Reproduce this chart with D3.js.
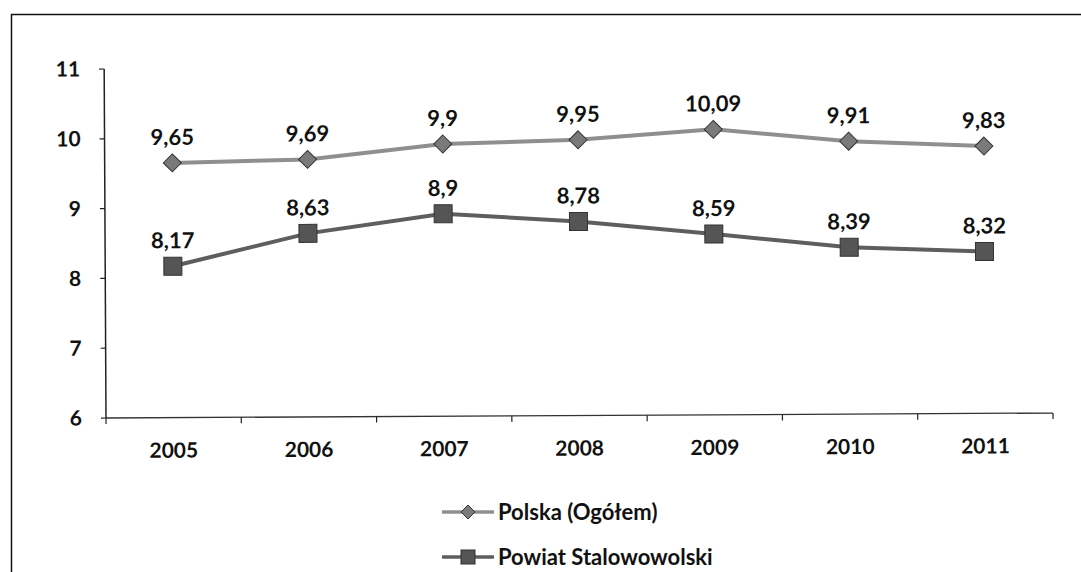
<!DOCTYPE html>
<html>
<head>
<meta charset="utf-8">
<script src="https://cdn.jsdelivr.net/npm/d3@7"></script>
<style>
  body { margin: 0; background: #fff; }
  svg { display: block; font-family: Lato, "Open Sans", sans-serif; }
</style>
</head>
<body>
<svg width="1081" height="572"></svg>
<script>
const svg = d3.select("svg");
const width = +svg.attr("width");
const height = +svg.attr("height");

// data
const years = ["2005", "2006", "2007", "2008", "2009", "2010", "2011"];
const polska = [9.65, 9.69, 9.9, 9.95, 10.09, 9.91, 9.83];
const powiat = [8.17, 8.63, 8.9, 8.78, 8.59, 8.39, 8.32];
const seriesNames = ["Polska (Ogółem)", "Powiat Stalowowolski"];
const yTicks = [6, 7, 8, 9, 10, 11];

const fmt = v => String(v).replace(".", ",");

// frame of the scanned chart
svg.append("path")
    .attr("d", `M11.5,${height} V14.5 H${width}`)
    .attr("fill", "none")
    .attr("stroke", "#111")
    .attr("stroke-width", 1.5);

const plot = { left: 106, right: 1053, top: 69, bottom: 418 };

// the scan is tilted a little, right side sits higher
const chart = svg.append("g")
    .attr("transform", `rotate(-0.3, ${plot.left}, ${plot.bottom})`);

const x = d3.scaleBand().domain(years).range([plot.left, plot.right]);
const y = d3.scaleLinear().domain([6, 11]).range([plot.bottom, plot.top]);

// y axis
chart.append("line")
    .attr("x1", plot.left).attr("x2", plot.left)
    .attr("y1", plot.top).attr("y2", plot.bottom)
    .attr("stroke", "#222").attr("stroke-width", 1.5);
chart.selectAll(".ytick")
    .data(yTicks)
    .enter().append("line")
    .attr("x1", plot.left - 5).attr("x2", plot.left)
    .attr("y1", d => y(d)).attr("y2", d => y(d))
    .attr("stroke", "#222").attr("stroke-width", 1.2);
chart.selectAll(".ylab")
    .data(yTicks)
    .enter().append("text")
    .attr("x", 82).attr("y", d => y(d))
    .attr("dy", "0.35em")
    .attr("text-anchor", "end")
    .attr("font-size", 21)
    .attr("font-weight", 700)
    .attr("fill", "#111")
    .text(d => d);

// x axis
chart.append("line")
    .attr("x1", plot.left).attr("x2", plot.right)
    .attr("y1", plot.bottom).attr("y2", plot.bottom)
    .attr("stroke", "#333").attr("stroke-width", 1.3);
const boundaries = years.map(d => x(d)).concat([plot.right]);
chart.selectAll(".xtick")
    .data(boundaries)
    .enter().append("line")
    .attr("x1", d => d).attr("x2", d => d)
    .attr("y1", plot.bottom).attr("y2", plot.bottom + 6)
    .attr("stroke", "#222").attr("stroke-width", 1.2);
chart.selectAll(".xlab")
    .data(years)
    .enter().append("text")
    .attr("x", d => x(d) + x.bandwidth() / 2)
    .attr("y", 458)
    .attr("text-anchor", "middle")
    .attr("font-size", 21)
    .attr("font-weight", 700)
    .attr("fill", "#111")
    .text(d => d);

const cx = (d, i) => x(years[i]) + x.bandwidth() / 2;
const line = d3.line().x((d, i) => cx(d, i)).y(d => y(d));

const series = [
    { name: seriesNames[0], values: polska, lineColor: "#8f8f8f", markColor: "#7a7a7a", shape: "diamond" },
    { name: seriesNames[1], values: powiat, lineColor: "#5e5e5e", markColor: "#555", shape: "square" }
];

function marker(g, shape, color, size) {
    if (shape === "diamond") {
        g.append("path")
            .attr("d", `M0,${-size} L${size},0 L0,${size} L${-size},0 Z`)
            .attr("fill", color)
            .attr("stroke", "#333").attr("stroke-width", 1);
    } else {
        g.append("rect")
            .attr("x", -size).attr("y", -size)
            .attr("width", size * 2).attr("height", size * 2)
            .attr("fill", color)
            .attr("stroke", "#333").attr("stroke-width", 1);
    }
}

series.forEach(s => {
    chart.append("path")
        .datum(s.values)
        .attr("d", line)
        .attr("fill", "none")
        .attr("stroke", s.lineColor)
        .attr("stroke-width", 4);

    s.values.forEach((v, i) => {
        const g = chart.append("g").attr("transform", `translate(${cx(v, i)},${y(v)})`);
        marker(g, s.shape, s.markColor, 9);
        chart.append("text")
            .attr("x", cx(v, i))
            .attr("y", y(v) - 18)
            .attr("text-anchor", "middle")
            .attr("font-size", 22)
            .attr("font-weight", 700)
            .attr("fill", "#111")
            .text(fmt(v));
    });
});

// legend
const legend = svg.append("g");
series.forEach((s, i) => {
    const ly = 512 + i * 45;
    legend.append("line")
        .attr("x1", 442).attr("x2", 494)
        .attr("y1", ly).attr("y2", ly)
        .attr("stroke", s.lineColor).attr("stroke-width", 3.5);
    const g = legend.append("g").attr("transform", `translate(468,${ly})`);
    marker(g, s.shape, s.markColor, 7);
    legend.append("text")
        .attr("x", 498).attr("y", ly)
        .attr("dy", "0.35em")
        .attr("font-size", 22)
        .attr("font-weight", 700)
        .attr("fill", "#111")
        .text(s.name);
});
</script>
</body>
</html>
